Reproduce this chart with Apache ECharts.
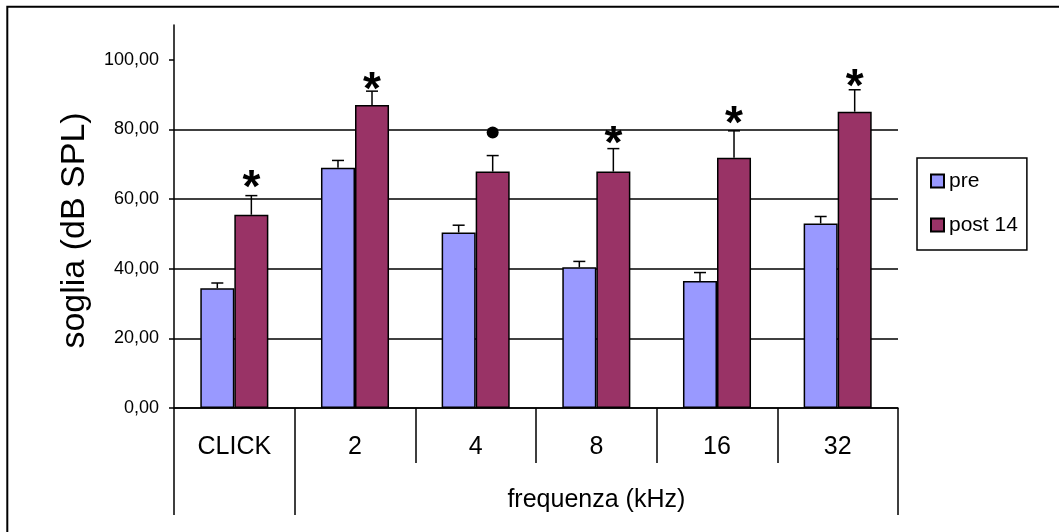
<!DOCTYPE html>
<html><head><meta charset="utf-8">
<script src="https://cdn.jsdelivr.net/npm/echarts@6/dist/echarts.min.js"></script>
<style>html,body{margin:0;padding:0;background:#fff}#c{width:1059px;height:532px}</style>
</head><body><div id="c"></div>
<script>
const categories = ['CLICK', '2', '4', '8', '16', '32'];
const seriesNames = ['pre', 'post 14'];
const preValues = [34.4, 69.0, 50.4, 40.4, 36.5, 53.0];
const postValues = [55.5, 87.0, 67.9, 67.9, 71.9, 85.1];
const preErrors = [1.5, 2.1, 2.1, 1.7, 2.4, 2.0];
const postErrors = [5.5, 4.0, 4.6, 6.6, 7.7, 6.3];
const sigMarks = ['*', '*', '●', '*', '*', '*'];
const sigHeights = [65.8, 94.0, 79.1, 78.3, 84.1, 94.6];
const yTicks = [0, 20, 40, 60, 80, 100];
const groupTitle = 'frequenza (kHz)';
const yTitle = 'soglia (dB SPL)';

const FONT = '"Liberation Sans", Arial, sans-serif';
const GAP = 0.436;
const chart = echarts.init(document.getElementById('c'));

function errRender(side) {
  return function (params, api) {
    const i = api.value(0), v = api.value(1), e = api.value(2);
    const band = api.size([1, 0])[0];
    const bw = band * (1 - GAP) / 2;
    const base = api.coord([i, v]);
    const top = api.coord([i, v + e]);
    const x = base[0] + side * bw / 2;
    return { type: 'group', children: [
      { type: 'line', shape: { x1: x, y1: base[1], x2: x, y2: top[1] }, style: { stroke: '#000', lineWidth: 1.5 } },
      { type: 'line', shape: { x1: x - 6, y1: top[1], x2: x + 6, y2: top[1] }, style: { stroke: '#000', lineWidth: 1.5 } }
    ]};
  };
}
function markRender(params, api) {
  const i = api.value(0), h = api.value(1);
  const band = api.size([1, 0])[0];
  const bw = band * (1 - GAP) / 2;
  const p = api.coord([i, h]);
  const x = p[0] + bw / 2;
  const m = sigMarks[params.dataIndex];
  if (m === '*') {
    const fs = 46;
    return { type: 'text', style: { text: m, x: x, y: p[1] + 0.22 * fs, align: 'center', verticalAlign: 'middle',
      font: 'bold ' + fs + 'px ' + FONT, fill: '#000' } };
  }
  return { type: 'circle', shape: { cx: x, cy: p[1], r: 6 }, style: { fill: '#000' } };
}

const option = {
  animation: false,
  backgroundColor: '#fff',
  textStyle: { fontFamily: FONT, color: '#000' },
  grid: { left: 174, right: 161, top: 25, bottom: 124 },
  legend: {
    data: seriesNames,
    orient: 'vertical',
    left: 917, top: 158,
    padding: [11, 9, 13, 13],
    itemGap: 20,
    itemWidth: 13, itemHeight: 13,
    borderColor: '#000', borderWidth: 1.5, borderRadius: 0,
    icon: 'rect',
    textStyle: { fontSize: 21, color: '#000', fontFamily: FONT, lineHeight: 24 }
  },
  xAxis: [{
    type: 'category', data: categories, position: 'bottom',
    axisLine: { lineStyle: { color: '#000', width: 1.5 } },
    axisTick: { show: true, length: 55, alignWithLabel: false, lineStyle: { color: '#000', width: 1.5 } },
    axisLabel: { fontSize: 25, color: '#000', fontFamily: FONT, margin: 27, interval: 0 },
    splitLine: { show: false }
  }, {
    type: 'category', data: categories, position: 'bottom', offset: 55,
    axisLine: { show: false },
    axisTick: { show: true, length: 52, alignWithLabel: false, interval: function (i) { return i === 0 || i === 1; },
      lineStyle: { color: '#000', width: 1.5 } },
    axisLabel: { fontSize: 25, color: '#000', fontFamily: FONT, margin: 25,
      interval: function (i) { return i === 3; }, formatter: function () { return groupTitle; } },
    splitLine: { show: false }
  }],
  yAxis: {
    type: 'value', min: 0, max: 110, interval: 20,
    axisLine: { show: true, lineStyle: { color: '#000', width: 1.5 } },
    axisTick: { show: true, length: 5, customValues: yTicks, lineStyle: { color: '#000', width: 1.5 } },
    axisLabel: { fontSize: 18, color: '#000', fontFamily: FONT, margin: 15, customValues: yTicks,
      formatter: function (v) { return v > 100 ? '' : v.toFixed(2).replace('.', ','); } },
    splitLine: { show: true, showMaxLine: false, lineStyle: { color: '#000', width: 1.5 } }
  },
  graphic: [
    { type: 'rect', silent: true, z: -1, shape: { x: 7.3, y: 6.7, width: 1200, height: 800 },
      style: { fill: 'none', stroke: '#000', lineWidth: 2 } },
    { type: 'text', x: 75, y: 230.5, rotation: Math.PI / 2,
      style: { text: yTitle, font: '34px ' + FONT, fill: '#000', align: 'center', verticalAlign: 'middle' } }
  ],
  series: [{
    name: seriesNames[0], type: 'bar', data: preValues, barGap: '0%', barCategoryGap: (GAP * 100) + '%',
    itemStyle: { color: '#9999FF', borderColor: '#000', borderWidth: 1.5 }
  }, {
    name: seriesNames[1], type: 'bar', data: postValues, barGap: '0%', barCategoryGap: (GAP * 100) + '%',
    itemStyle: { color: '#993366', borderColor: '#000', borderWidth: 1.5 }
  }, {
    type: 'custom', renderItem: errRender(-1), clip: false, z: 5,
    data: preValues.map(function (v, i) { return [i, v, preErrors[i]]; }), encode: { x: 0, y: 1 }
  }, {
    type: 'custom', renderItem: errRender(1), clip: false, z: 5,
    data: postValues.map(function (v, i) { return [i, v, postErrors[i]]; }), encode: { x: 0, y: 1 }
  }, {
    type: 'custom', renderItem: markRender, clip: false, z: 6,
    data: sigHeights.map(function (h, i) { return [i, h]; }), encode: { x: 0, y: 1 }
  }]
};
chart.setOption(option);
</script></body></html>
